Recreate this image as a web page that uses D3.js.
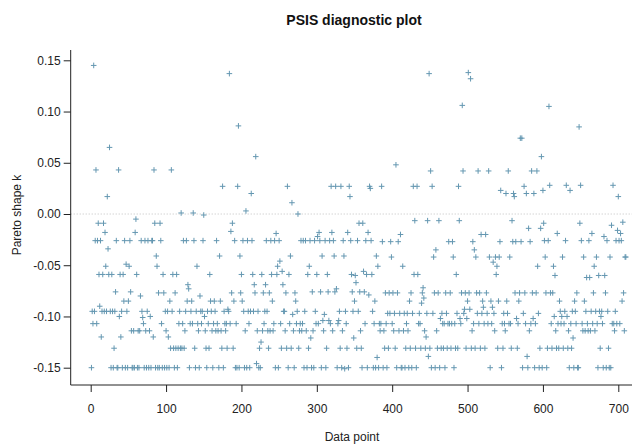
<!DOCTYPE html>
<html>
<head>
<meta charset="utf-8">
<script src="https://cdn.jsdelivr.net/npm/d3@7"></script>
<style>
  html, body { margin: 0; padding: 0; background: #fff; }
  svg { display: block; font-family: "Liberation Sans", Arial, Helvetica, sans-serif; }
</style>
</head>
<body>
<svg id="chart" width="638" height="448"></svg>
<script>
// ---- data (Pareto k estimates) ----
const title = "PSIS diagnostic plot";
const xLabel = "Data point";
const yLabel = "Pareto shape k";
const xTicks = [0, 100, 200, 300, 400, 500, 600, 700];
const yTicks = [-0.15, -0.10, -0.05, 0.00, 0.05, 0.10, 0.15];
const thresholds = [0];
const paretoK = [
-0.150,-0.095,-0.107,0.145,-0.095,-0.026,0.043,-0.107,-0.026,-0.009,
-0.059,-0.090,-0.026,-0.120,-0.095,-0.059,-0.009,-0.095,-0.018,-0.051,
-0.095,0.017,-0.034,-0.059,0.065,-0.095,-0.150,-0.059,-0.095,-0.150,
-0.131,-0.095,-0.076,-0.026,-0.150,-0.150,0.043,-0.100,-0.059,-0.120,
-0.095,-0.150,-0.059,-0.085,-0.026,-0.150,-0.049,-0.095,-0.150,-0.085,
-0.051,-0.026,-0.076,-0.114,-0.150,-0.150,-0.114,-0.150,-0.018,-0.005,
-0.059,-0.150,-0.114,-0.150,-0.114,-0.080,-0.026,-0.095,-0.101,-0.107,
-0.150,-0.026,-0.114,-0.150,-0.095,-0.026,-0.150,-0.114,-0.100,-0.150,
-0.026,-0.026,-0.120,0.043,-0.009,-0.150,-0.041,-0.051,-0.150,-0.077,
-0.150,-0.009,-0.026,-0.107,-0.150,-0.059,-0.077,-0.150,-0.095,-0.114,
-0.150,-0.095,-0.120,-0.150,-0.085,-0.131,0.043,-0.095,-0.059,-0.131,
-0.150,-0.077,-0.131,-0.059,-0.150,-0.131,-0.107,-0.095,-0.131,0.001,
-0.131,-0.107,-0.026,-0.131,-0.114,-0.095,-0.026,-0.085,-0.069,-0.073,
-0.150,-0.107,-0.095,-0.085,-0.107,0.001,-0.026,-0.131,-0.150,-0.095,
-0.051,-0.107,-0.114,-0.150,-0.080,-0.095,-0.107,-0.095,-0.026,-0.001,
-0.100,-0.114,-0.131,-0.150,-0.095,-0.107,-0.131,-0.059,-0.085,-0.095,
-0.114,-0.150,-0.107,-0.085,-0.095,-0.114,-0.026,-0.107,-0.114,-0.150,
-0.041,-0.085,-0.114,-0.131,0.027,-0.150,-0.095,-0.107,-0.114,-0.107,
-0.131,-0.093,-0.095,0.137,-0.107,-0.017,-0.077,-0.009,-0.131,-0.085,
-0.026,-0.150,-0.107,-0.150,0.027,0.086,-0.150,-0.041,-0.077,-0.059,
-0.085,-0.026,-0.095,-0.150,-0.114,0.003,-0.150,-0.026,-0.095,-0.107,
-0.150,-0.095,0.020,-0.026,-0.059,-0.095,-0.069,-0.077,0.056,-0.146,
-0.114,-0.095,-0.150,-0.131,-0.150,-0.125,-0.059,-0.114,-0.077,-0.107,
-0.095,-0.069,-0.026,-0.095,-0.114,-0.131,-0.077,-0.114,-0.026,-0.059,
-0.085,-0.114,-0.107,-0.026,-0.150,-0.019,-0.059,-0.051,-0.150,-0.026,
-0.046,-0.107,-0.131,-0.056,-0.069,-0.095,-0.095,-0.114,-0.077,-0.131,
0.027,-0.150,-0.059,-0.107,-0.041,-0.131,0.011,-0.098,-0.114,-0.150,
-0.077,-0.085,-0.107,-0.095,0.000,-0.131,-0.114,-0.107,-0.026,-0.114,
-0.107,-0.026,-0.150,-0.095,-0.026,-0.114,-0.150,-0.059,-0.131,-0.051,
-0.026,-0.121,-0.150,-0.076,-0.114,-0.150,-0.026,-0.095,-0.107,-0.059,
-0.022,-0.107,-0.018,-0.026,-0.076,-0.150,-0.041,-0.104,-0.114,-0.098,
-0.026,-0.150,-0.131,-0.059,-0.076,-0.104,-0.026,-0.107,0.027,-0.018,
-0.114,-0.026,-0.041,-0.076,0.027,-0.073,-0.150,-0.107,-0.104,-0.095,
-0.131,0.027,-0.150,-0.114,-0.026,-0.041,-0.151,-0.095,-0.107,-0.131,
-0.018,-0.150,0.027,0.017,-0.026,-0.059,-0.076,-0.095,-0.121,-0.085,
-0.060,-0.067,-0.131,-0.026,-0.095,-0.009,-0.076,-0.114,-0.131,-0.150,
-0.009,-0.056,-0.076,-0.107,-0.026,-0.059,-0.150,-0.018,-0.079,0.027,
0.025,-0.026,-0.059,-0.095,-0.150,-0.107,-0.085,-0.150,-0.041,-0.140,
-0.051,-0.150,-0.107,-0.114,-0.107,0.027,-0.027,-0.150,-0.114,-0.131,
-0.077,-0.107,-0.150,-0.097,-0.131,-0.077,-0.097,-0.027,-0.042,-0.107,
-0.077,-0.114,-0.097,-0.131,0.048,-0.150,-0.077,-0.027,-0.114,-0.097,
-0.020,-0.150,-0.150,-0.051,-0.114,-0.097,-0.150,-0.131,-0.107,-0.097,
-0.114,-0.150,-0.085,-0.131,-0.077,-0.150,-0.097,0.027,-0.059,-0.0065,
-0.131,-0.150,0.027,-0.059,-0.107,-0.097,-0.107,-0.131,-0.087,-0.077,
-0.072,-0.082,-0.114,-0.131,-0.120,-0.097,-0.0065,-0.139,0.137,-0.131,
0.042,-0.150,0.027,-0.097,-0.042,-0.077,-0.150,-0.035,-0.114,-0.131,
-0.077,-0.0065,-0.150,-0.102,-0.131,-0.097,-0.107,-0.131,-0.107,-0.150,
-0.077,-0.097,-0.131,-0.107,-0.027,-0.107,-0.077,-0.131,-0.107,-0.027,
-0.042,-0.150,-0.107,-0.131,-0.059,-0.097,-0.131,0.027,-0.0065,-0.102,
-0.107,-0.077,0.106,0.042,-0.097,-0.093,-0.077,-0.131,-0.102,-0.085,
0.138,-0.077,-0.093,0.132,-0.131,-0.114,-0.027,-0.107,-0.035,-0.131,
-0.042,-0.077,-0.097,0.042,-0.107,-0.077,-0.131,-0.020,-0.097,-0.085,
-0.091,-0.107,-0.131,-0.020,-0.077,-0.097,-0.107,0.042,-0.042,-0.150,
-0.085,-0.107,-0.091,-0.047,-0.097,-0.114,-0.042,-0.059,-0.051,-0.131,
-0.085,-0.042,-0.027,0.023,-0.150,-0.107,-0.131,-0.097,-0.107,-0.114,
0.020,-0.085,-0.097,0.042,-0.107,-0.042,-0.107,-0.131,-0.0065,-0.027,
0.020,0.017,-0.077,-0.027,-0.102,-0.131,-0.107,-0.085,-0.077,0.074,
-0.027,0.074,-0.150,-0.097,0.027,-0.077,-0.107,0.020,-0.139,-0.150,
-0.014,-0.114,-0.027,-0.107,0.042,-0.077,-0.102,0.020,-0.150,-0.107,
-0.077,0.042,-0.051,-0.097,-0.150,-0.131,-0.014,0.056,-0.150,0.023,
-0.009,-0.026,-0.042,-0.077,-0.150,-0.131,-0.026,0.105,0.028,-0.077,
-0.107,-0.131,-0.077,-0.051,-0.100,-0.060,-0.114,-0.131,-0.019,-0.107,
-0.131,-0.085,-0.095,-0.107,-0.100,-0.042,-0.131,-0.107,-0.095,-0.026,
0.028,-0.100,-0.131,-0.114,-0.150,0.023,-0.107,-0.131,-0.095,-0.121,
-0.150,-0.085,-0.095,-0.107,-0.077,-0.150,-0.150,0.085,-0.009,0.028,
-0.026,-0.107,-0.114,-0.042,-0.085,-0.114,-0.095,-0.062,-0.107,-0.114,
-0.026,-0.062,-0.114,-0.095,-0.019,-0.107,-0.077,-0.051,-0.114,-0.095,
-0.042,-0.107,-0.150,-0.060,-0.095,-0.131,-0.100,-0.095,-0.107,-0.150,
-0.022,-0.060,-0.077,-0.150,-0.026,-0.095,-0.131,-0.150,-0.042,-0.150,
-0.011,-0.107,0.028,-0.107,-0.114,-0.095,-0.026,-0.107,-0.016,0.017,
-0.026,-0.107,-0.019,-0.026,-0.085,-0.008,-0.077,-0.114,-0.042,-0.042
];
const pointColor = "#6497b1";

// ---- layout ----
const W = 638, H = 448;
const plotLeft = 70.7, plotRight = 632, plotTop = 50, plotBottom = 385;

const svg = d3.select("#chart");
svg.append("rect").attr("width", W).attr("height", H).attr("fill", "#fff");

const x = d3.scaleLinear().domain([0, 700]).range([90.7, 618.3]);
const y = d3.scaleLinear().domain([-0.15, 0.15]).range([367.7, 60.3]);

const fmtY = v => d3.format(".2f")(v).replace("\u2212", "-");

// threshold line (dotted grey)
svg.selectAll("line.thr").data(thresholds).enter().append("line")
  .attr("class", "thr")
  .attr("x1", plotLeft).attr("x2", plotRight)
  .attr("y1", d => y(d)).attr("y2", d => y(d))
  .attr("stroke", "#c0c0c0").attr("stroke-width", 1)
  .attr("stroke-dasharray", "1,2");

// points as "+"
const s = 2.8;
svg.append("g").selectAll("path").data(paretoK).enter().append("path")
  .attr("d", (d, i) => {
    const cx = x(i + 1), cy = y(d);
    return `M${cx - s},${cy}H${cx + s}M${cx},${cy - s}V${cy + s}`;
  })
  .attr("stroke", pointColor).attr("stroke-width", 1).attr("fill", "none");

// L-shaped frame
svg.append("path")
  .attr("d", `M${plotLeft},${plotTop}V${plotBottom}H${plotRight}`)
  .attr("fill", "none").attr("stroke", "#222").attr("stroke-width", 1);

// x axis
const xAxis = svg.append("g").attr("transform", `translate(0,${plotBottom})`)
  .call(d3.axisBottom(x).tickValues(xTicks).tickSize(7).tickSizeOuter(0).tickPadding(12));
xAxis.select(".domain").remove();
xAxis.selectAll("line").attr("stroke", "#222");
xAxis.selectAll("text").attr("font-size", 12).attr("fill", "#222")
  .attr("font-family", "Liberation Sans, Arial, sans-serif");

// y axis
const yAxis = svg.append("g").attr("transform", `translate(${plotLeft},0)`)
  .call(d3.axisLeft(y).tickValues(yTicks).tickFormat(fmtY).tickSize(7).tickSizeOuter(0).tickPadding(3));
yAxis.select(".domain").remove();
yAxis.selectAll("line").attr("stroke", "#222");
yAxis.selectAll("text").attr("font-size", 12).attr("fill", "#222")
  .attr("font-family", "Liberation Sans, Arial, sans-serif");

// titles
svg.append("text").attr("x", 354).attr("y", 25).attr("text-anchor", "middle")
  .attr("font-size", 14).attr("font-weight", "bold").attr("fill", "#111").text(title);
svg.append("text").attr("x", 352).attr("y", 441).attr("text-anchor", "middle")
  .attr("font-size", 12).attr("fill", "#222").text(xLabel);
svg.append("text").attr("transform", "translate(21,215) rotate(-90)").attr("text-anchor", "middle")
  .attr("font-size", 12).attr("fill", "#222").text(yLabel);
</script>
</body>
</html>
